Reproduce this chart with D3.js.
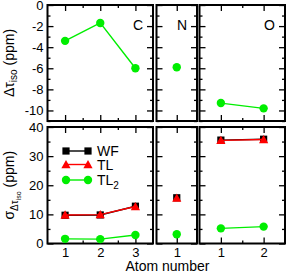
<!DOCTYPE html>
<html>
<head>
<meta charset="utf-8">
<script src="https://cdn.jsdelivr.net/npm/d3@7"></script>
<style>
  body { margin: 0; background: #fff; }
  text { font-family: "Liberation Sans", Arial, sans-serif; fill: #000; }
</style>
</head>
<body>
<div id="chart"></div>
<script>
// Values, one array per panel and series
var elements = ["C", "N", "O"];
var atomsC = [1, 2, 3], atomsN = [1], atomsO = [1, 2];

var shiftC = [-3.4, -1.7, -6.0];
var shiftN = [-5.9];
var shiftO = [-9.3, -9.8];

var wfC = [9.7, 9.8, 12.8];
var wfN = [15.7];
var wfO = [35.5, 35.8];

var tlC = [9.8, 9.9, 12.7];
var tlN = [15.6];
var tlO = [35.4, 35.7];

var tl2C = [1.6, 1.5, 2.9];
var tl2N = [3.2];
var tl2O = [5.2, 5.8];

var shiftTicks = [-10, -8, -6, -4, -2, 0];
var sigmaTicks = [0, 10, 20, 30, 40];
var seriesNames = ["WF", "TL", "TL2"];

var green = "#00ee00", red = "#ff0000";

// layout
var svg_dx = 287, svg_dy = 273;
var cols = [[47.5, 153], [156.5, 197], [199.5, 285]];
var rows = [[5, 121], [127, 243.5]];

var panels = [
  { name: "C", atoms: atomsC, shift: shiftC, wf: wfC, tl: tlC, tl2: tl2C },
  { name: "N", atoms: atomsN, shift: shiftN, wf: wfN, tl: tlN, tl2: tl2N },
  { name: "O", atoms: atomsO, shift: shiftO, wf: wfO, tl: tlO, tl2: tl2O }
];

var svg = d3.select("#chart")
            .append("svg")
            .attr("width", svg_dx)
            .attr("height", svg_dy);

var yTop = d3.scaleLinear().domain([-11, 0]).range([rows[0][1], rows[0][0]]);
var yBot = d3.scaleLinear().domain([0, 40]).range([rows[1][1], rows[1][0]]);

var fmt = function(d) { return String(d); };

function addTicks(g, axis, major, minor, showLabels, isFirst) {
  g.append("g").call(axis.tickValues(minor).tickSize(-3).tickFormat(""));
  var a = g.append("g").call(axis.tickValues(major).tickSize(-6).tickPadding(4)
                              .tickFormat(showLabels ? fmt : ""));
  return a;
}

function styleAxis(sel) {
  sel.selectAll(".domain").remove();
  sel.selectAll("line").attr("stroke", "#000").attr("stroke-width", 1.3);
  sel.selectAll("text").style("font-size", "13px")
     .style("font-family", "Liberation Sans, Arial, sans-serif").attr("fill", "#000");
}

function triangle(x, y) {
  var s = 4.6;
  return "M" + x + "," + (y - s) + "L" + (x + s) + "," + (y + s * 0.8) + "L" + (x - s) + "," + (y + s * 0.8) + "Z";
}

panels.forEach(function(p, i) {
  var lo = 0.5, hi = p.atoms.length + 0.5;
  var x = d3.scaleLinear().domain([lo, hi]).range(cols[i]);
  var xMajor = p.atoms;
  var xMinor = d3.range(1, p.atoms.length).map(function(v) { return v + 0.5; });

  [0, 1].forEach(function(r) {
    var y = r === 0 ? yTop : yBot;
    var yMajor = r === 0 ? shiftTicks : sigmaTicks;
    var yMinor = r === 0 ? [-11, -9, -7, -5, -3, -1] : [5, 15, 25, 35];
    var g = svg.append("g");

    var gl = g.append("g").attr("transform", "translate(" + cols[i][0] + ",0)");
    addTicks(gl, d3.axisLeft(y), yMajor, yMinor, i === 0);
    var gr = g.append("g").attr("transform", "translate(" + cols[i][1] + ",0)");
    addTicks(gr, d3.axisRight(y), yMajor, yMinor, false);
    var gt = g.append("g").attr("transform", "translate(0," + rows[r][0] + ")");
    addTicks(gt, d3.axisTop(x), xMajor, xMinor, false);
    var gb = g.append("g").attr("transform", "translate(0," + rows[r][1] + ")");
    addTicks(gb, d3.axisBottom(x), xMajor, xMinor, r === 1);
    styleAxis(g);

    g.append("rect")
     .attr("x", cols[i][0]).attr("y", rows[r][0])
     .attr("width", cols[i][1] - cols[i][0]).attr("height", rows[r][1] - rows[r][0])
     .attr("fill", "none").attr("stroke", "#000").attr("stroke-width", 2);

    var line = d3.line()
                 .x(function(d, k) { return x(p.atoms[k]); })
                 .y(function(d) { return y(d); });

    if (r === 0) {
      g.append("path").attr("d", line(p.shift)).attr("fill", "none")
       .attr("stroke", green).attr("stroke-width", 1.4);
      g.selectAll(".dot").data(p.shift).enter().append("circle")
       .attr("cx", function(d, k) { return x(p.atoms[k]); })
       .attr("cy", function(d) { return y(d); })
       .attr("r", 4.2).attr("fill", green);
      g.append("text").attr("x", cols[i][1] - 10).attr("y", rows[r][0] + 25)
       .attr("text-anchor", "end").style("font-size", "14px").text(p.name);
    } else {
      // WF
      g.append("path").attr("d", line(p.wf)).attr("fill", "none")
       .attr("stroke", "#000").attr("stroke-width", 1.4);
      g.selectAll(".sq").data(p.wf).enter().append("rect")
       .attr("x", function(d, k) { return x(p.atoms[k]) - 3.6; })
       .attr("y", function(d) { return y(d) - 3.6; })
       .attr("width", 7.2).attr("height", 7.2).attr("fill", "#000");
      // TL
      g.append("path").attr("d", line(p.tl)).attr("fill", "none")
       .attr("stroke", red).attr("stroke-width", 1.4);
      g.selectAll(".tri").data(p.tl).enter().append("path")
       .attr("d", function(d, k) { return triangle(x(p.atoms[k]), y(d)); })
       .attr("fill", red);
      // TL2
      g.append("path").attr("d", line(p.tl2)).attr("fill", "none")
       .attr("stroke", green).attr("stroke-width", 1.4);
      g.selectAll(".dot").data(p.tl2).enter().append("circle")
       .attr("cx", function(d, k) { return x(p.atoms[k]); })
       .attr("cy", function(d) { return y(d); })
       .attr("r", 4.2).attr("fill", green);
    }
  });
});

// legend
var legY = [151, 164.5, 180];
var lg = svg.append("g");
seriesNames.forEach(function(name, k) {
  var col = k === 0 ? "#000" : (k === 1 ? red : green);
  lg.append("line").attr("x1", 66).attr("x2", 88).attr("y1", legY[k]).attr("y2", legY[k])
    .attr("stroke", col).attr("stroke-width", 1.4);
  [66, 88].forEach(function(px) {
    if (k === 0) {
      lg.append("rect").attr("x", px - 3.6).attr("y", legY[k] - 3.6)
        .attr("width", 7.2).attr("height", 7.2).attr("fill", col);
    } else if (k === 1) {
      lg.append("path").attr("d", triangle(px, legY[k])).attr("fill", col);
    } else {
      lg.append("circle").attr("cx", px).attr("cy", legY[k]).attr("r", 4.2).attr("fill", col);
    }
  });
  var t = lg.append("text").attr("x", 97).attr("y", legY[k] + 5).style("font-size", "14px");
  if (name === "TL2") {
    t.append("tspan").text("TL");
    t.append("tspan").attr("dy", 4).style("font-size", "10px").text("2");
  } else {
    t.text(name);
  }
});

// axis titles
var t1 = svg.append("text")
            .attr("transform", "translate(14," + (rows[0][0] + rows[0][1]) / 2 + ") rotate(-90)")
            .attr("text-anchor", "middle").style("font-size", "14px");
t1.append("tspan").text("Δτ");
t1.append("tspan").attr("dy", 3).style("font-size", "10px").text("iso");
t1.append("tspan").attr("dy", -3).text(" (ppm)");

var t2 = svg.append("text")
            .attr("transform", "translate(14," + (rows[1][0] + rows[1][1]) / 2 + ") rotate(-90)")
            .attr("text-anchor", "middle").style("font-size", "14px");
t2.append("tspan").text("σ");
t2.append("tspan").attr("dy", 4).style("font-size", "10px").text("Δτ");
t2.append("tspan").attr("dy", 3).style("font-size", "7px").text("iso");
t2.append("tspan").attr("dy", -7).text(" (ppm)");

svg.append("text").attr("x", 167.5).attr("y", 270.5)
   .attr("text-anchor", "middle").style("font-size", "14px").text("Atom number");
</script>
</body>
</html>
